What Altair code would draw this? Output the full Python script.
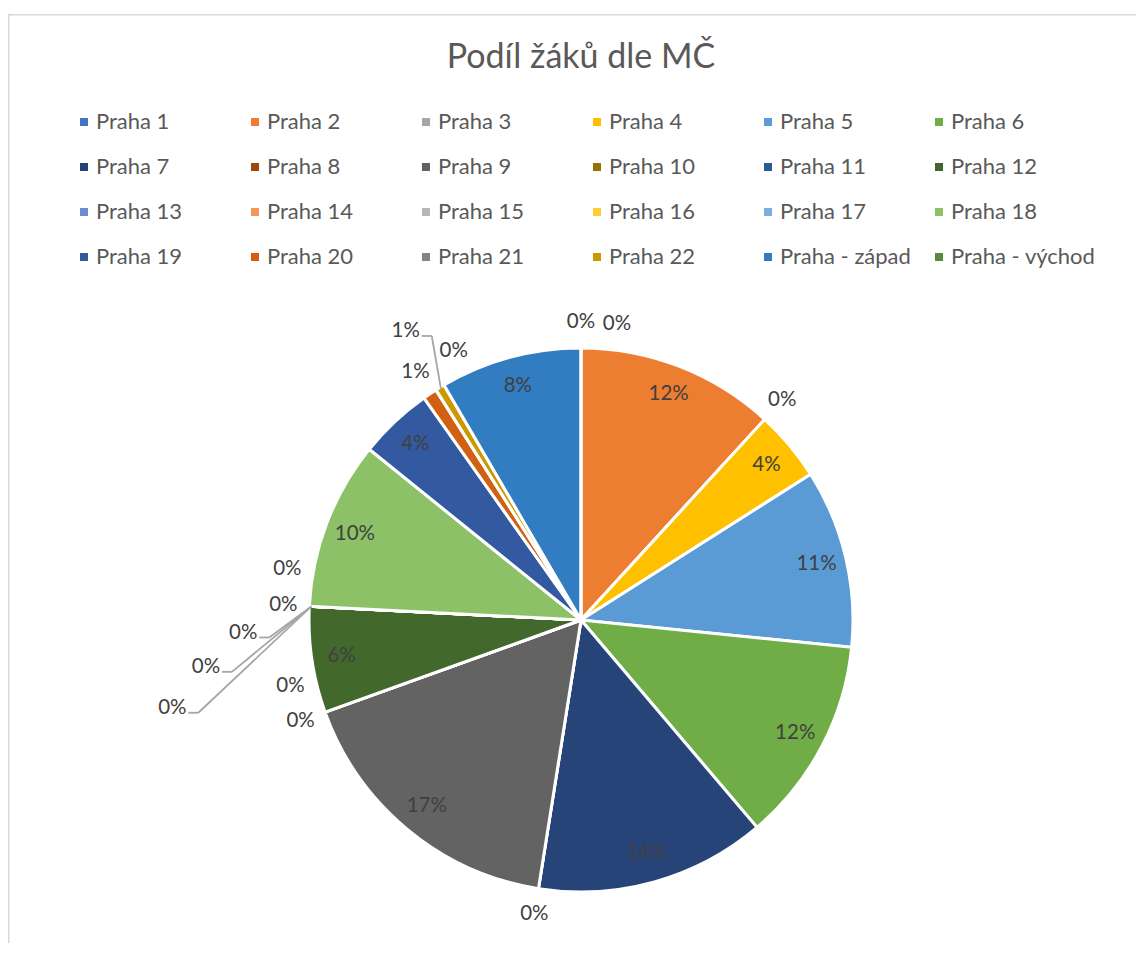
import math
import altair as alt
import pandas as pd

# ---------------- data ----------------
names = ["Praha 1", "Praha 2", "Praha 3", "Praha 4", "Praha 5", "Praha 6",
         "Praha 7", "Praha 8", "Praha 9", "Praha 10", "Praha 11", "Praha 12",
         "Praha 13", "Praha 14", "Praha 15", "Praha 16", "Praha 17", "Praha 18",
         "Praha 19", "Praha 20", "Praha 21", "Praha 22", "Praha - západ", "Praha - východ"]
shares = [0.0, 11.8, 0.0, 4.2, 10.6, 12.2,
          13.7, 0.0, 17.0, 0.0, 0.0, 6.3,
          0.0, 0.0, 0.0, 0.0, 0.0, 10.0,
          4.4, 0.85, 0.0, 0.55, 8.4, 0.0]
colors = ["#4472C4", "#ED7D31", "#A5A5A5", "#FFC000", "#5B9BD5", "#70AD47",
          "#264478", "#9E480E", "#636363", "#997300", "#255E91", "#43682B",
          "#698ED0", "#F1975A", "#B7B7B7", "#FFCD33", "#7CAFDD", "#8CC168",
          "#335AA1", "#D26012", "#848484", "#CC9A00", "#327CC1", "#5A8A39"]
title_text = "Podíl žáků dle MČ"

# ---------------- layout ----------------
FONT = "Lato"
W, H = 1128, 929          # view size (whole chart area)
CX, CY = 573, 606         # pie centre inside the view
R = 272                   # pie radius
IN_R = 242                # radius of inside labels
OUT_R = 298               # radius of outside labels
BOX_W, BOX_H = 34, 22     # label box used for collision tests
Y_MAX = 310               # keep outside labels clear of the legend

xs = alt.Scale(domain=[-CX, W - CX], nice=False, zero=False)
ys = alt.Scale(domain=[CY - H, CY], nice=False, zero=False)

total = sum(shares)


def polar(r, a):
    return r * math.sin(a), r * math.cos(a)


def in_box(px, py, box, shrink=3):
    bx, by = box
    return (abs(px - bx) < BOX_W / 2 - shrink) and (abs(py - by) < BOX_H / 2 - shrink)


def seg_hits(p, q, box):
    for i in range(61):
        t = i / 60
        if in_box(p[0] + (q[0] - p[0]) * t, p[1] + (q[1] - p[1]) * t, box):
            return True
    return False


def leader_for(lx, ly, ex, ey):
    side = 1 if lx < ex else -1
    t0 = (lx + side * 16, ly - 5)
    t1 = (lx + side * 26, ly - 5)
    return [(t0, t1), (t1, (ex, ey))]


label_rows, leader_rows = [], []
placed, segments = [], []
cum = 0.0
step = (BOX_W + 2) / OUT_R
for name, v in zip(names, shares):
    frac = v / total
    mid = (cum + v / 2) / total * 2 * math.pi
    cum += v
    if frac >= 0.02:
        x, y = polar(IN_R, mid)
        label_rows.append({"name": name, "frac": frac, "lx": x, "ly": y})
        continue
    ex, ey = polar(R - 2, mid)
    cands = [(mid, OUT_R), (mid + step, OUT_R)]
    cands += [(mid, OUT_R + 40 * m) for m in range(1, 5)]
    cands += [(mid - math.radians(5 * m), OUT_R + 40 * m) for m in range(1, 6)]
    cands += [(mid - step, OUT_R)]
    cands += [(mid + math.radians(5 * m), OUT_R + 40 * m) for m in range(1, 6)]
    chosen = None
    for a, r in cands:
        x, y = polar(r, a)
        if y > Y_MAX:
            continue
        if any(abs(x - px) < BOX_W and abs(y - py) < BOX_H for px, py in placed):
            continue
        segs = leader_for(x, y, ex, ey) if r > OUT_R + 1 else []
        if any(seg_hits(p, q, b) for p, q in segs for b in placed):
            continue
        if any(seg_hits(p, q, (x, y)) for p, q in segments):
            continue
        chosen = (x, y, segs)
        break
    if chosen is None:
        x, y = polar(OUT_R, mid)
        chosen = (x, y, [])
    x, y, segs = chosen
    placed.append((x, y))
    segments += segs
    label_rows.append({"name": name, "frac": frac, "lx": x, "ly": y})
    for p, q in segs:
        leader_rows.append({"x1": p[0], "y1": p[1], "x2": q[0], "y2": q[1]})

pie_df = pd.DataFrame({"name": names, "share": shares, "order": list(range(len(names)))})
lab_df = pd.DataFrame(label_rows)
lead_df = pd.DataFrame(leader_rows)

# ---------------- chart ----------------
pie = alt.Chart(pie_df).mark_arc(outerRadius=R, stroke="white", strokeWidth=3).encode(
    theta=alt.Theta("share:Q", stack=True),
    order=alt.Order("order:Q"),
    x=alt.XDatum(0, type="quantitative", scale=xs, axis=None),
    y=alt.YDatum(0, type="quantitative", scale=ys, axis=None),
    color=alt.Color(
        "name:N",
        scale=alt.Scale(domain=names, range=colors),
        sort=names,
        legend=alt.Legend(
            title=None, orient="none", legendX=65, legendY=97,
            columns=6, direction="horizontal", gridAlign="all",
            symbolType="square", symbolSize=64, symbolStrokeWidth=0,
            labelFont=FONT, labelFontSize=22, labelColor="#595959",
            labelOffset=1, columnPadding=3, rowPadding=23, padding=0,
            labelLimit=400,
        ),
    ),
)

leaders = alt.Chart(lead_df).mark_rule(color="#A6A6A6", strokeWidth=1.8).encode(
    x=alt.X("x1:Q", scale=xs, axis=None),
    y=alt.Y("y1:Q", scale=ys, axis=None),
    x2="x2:Q",
    y2="y2:Q",
)

texts = alt.Chart(lab_df).mark_text(font=FONT, fontSize=20.5, color="#404040",
                                     align="center", baseline="middle").encode(
    x=alt.X("lx:Q", scale=xs, axis=None),
    y=alt.Y("ly:Q", scale=ys, axis=None),
    text=alt.Text("frac:Q", format=".0%"),
)

frame_src = alt.Data(values=[{"k": 0}])
frame_top = alt.Chart(frame_src).mark_rule(color="#D9D9D9", strokeWidth=1.5).encode(
    x=alt.value(0), x2=alt.value(W), y=alt.value(0.75))
frame_left = alt.Chart(frame_src).mark_rule(color="#D9D9D9", strokeWidth=1.5).encode(
    x=alt.value(0.75), y=alt.value(0), y2=alt.value(H))

chart = alt.layer(frame_top, frame_left, pie, leaders, texts).properties(
    width=W, height=H,
    title=alt.Title(title_text, font=FONT, fontSize=34, fontWeight="normal",
                    color="#595959", anchor="middle", baseline="alphabetic",
                    offset=-89, dx=9),
    autosize=alt.AutoSizeParams(type="none"),
    padding={"left": 0, "top": 6, "right": 0, "bottom": 0},
).configure_view(strokeWidth=0).configure(background="white")

chart.save("out.html", embed_options={"renderer": "svg", "actions": False})
